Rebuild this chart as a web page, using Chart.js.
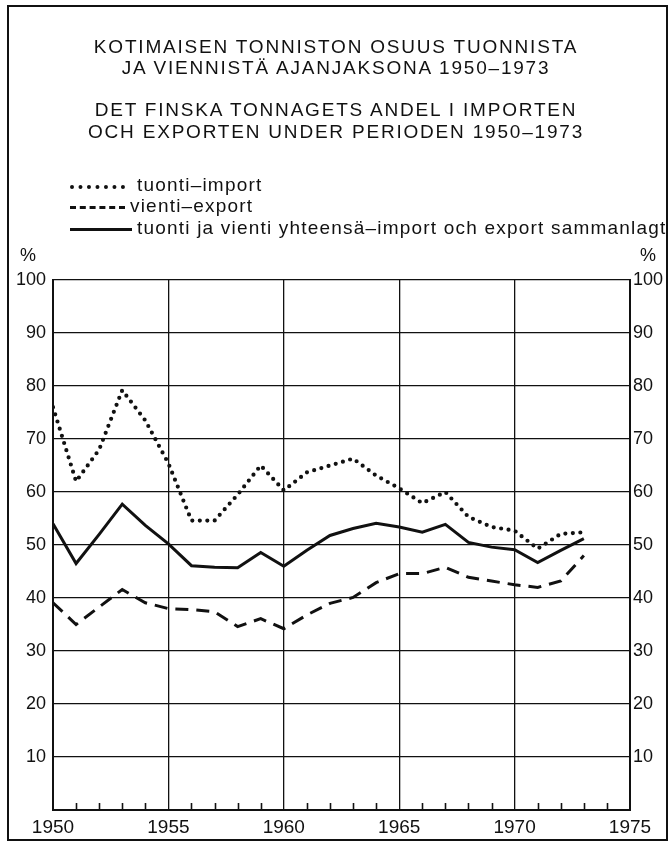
<!DOCTYPE html>
<html>
<head>
<meta charset="utf-8">
<script src="https://cdn.jsdelivr.net/npm/chart.js@4"></script>
<style>
  html, body { margin: 0; padding: 0; background: #fff; }
  body { width: 670px; height: 842px; position: relative; overflow: hidden;
         font-family: "Liberation Sans", Arial, sans-serif; color: #111; }
  #frame { position: absolute; left: 7px; top: 5px; width: 657px; height: 832px;
           border: 2px solid #111; pointer-events: none; }
  .title { position: absolute; left: 0; width: 672px; text-align: center;
           font-size: 19px; line-height: 22px; letter-spacing: 1.8px; white-space: nowrap; }
  .leg { position: absolute; left: 70px; font-size: 19px; line-height: 22px;
         letter-spacing: 1.2px; white-space: nowrap; }
  .leg .s { position: absolute; left: 0; top: 11px; width: 55px; height: 0; }
  .leg .t { position: absolute; top: 0; }
  .pct { position: absolute; top: 244px; font-size: 18px; line-height: 22px; }
  #wrap { position: absolute; left: 0; top: 0; width: 670px; height: 842px; }
</style>
</head>
<body>
<div id="wrap"><canvas id="chart" width="670" height="842"></canvas></div>

<div class="title" style="top:36px">KOTIMAISEN TONNISTON OSUUS TUONNISTA</div>
<div class="title" style="top:57px">JA VIENNISTÄ AJANJAKSONA 1950–1973</div>
<div class="title" style="top:99px">DET FINSKA TONNAGETS ANDEL I IMPORTEN</div>
<div class="title" style="top:121px">OCH EXPORTEN UNDER PERIODEN 1950–1973</div>

<div class="leg" style="top:174px"><span class="s" style="border-top:4px dotted #111"></span><span class="t" style="left:67px">tuonti–import</span></div>
<div class="leg" style="top:195px"><span class="s" style="border-top:3px dashed #111"></span><span class="t" style="left:60px">vienti–export</span></div>
<div class="leg" style="top:217px"><span class="s" style="border-top:3px solid #111;width:62px"></span><span class="t" style="left:67px">tuonti ja vienti yhteensä–import och export sammanlagt</span></div>

<div class="pct" style="left:20px">%</div>
<div class="pct" style="left:640px">%</div>

<div id="frame"></div>

<script>
const years = [1950, 1951, 1952, 1953, 1954, 1955, 1956, 1957, 1958, 1959, 1960, 1961,
               1962, 1963, 1964, 1965, 1966, 1967, 1968, 1969, 1970, 1971, 1972, 1973];
const importShare = [76, 62, 68, 79.2, 73.5, 65.4, 54.6, 54.6, 59.5, 65, 60.3, 63.7,
                     65, 66.3, 63.1, 60.7, 57.9, 60, 55.3, 53.4, 52.7, 49.3, 52.1, 52.4];
const exportShare = [39.1, 35, 38.3, 41.6, 39.1, 38, 37.8, 37.4, 34.6, 36.1, 34.2, 36.8,
                     39, 40.1, 42.9, 44.6, 44.6, 45.8, 43.9, 43.2, 42.5, 42, 43.2, 48];
const totalShare = [54, 46.5, 52, 57.7, 53.7, 50.2, 46.1, 45.8, 45.7, 48.6, 46, 49,
                    51.8, 53.1, 54.1, 53.4, 52.4, 53.9, 50.5, 49.6, 49.1, 46.7, 49, 51.2];
const xTickLabels = [1950, 1955, 1960, 1965, 1970, 1975];
const yTickLabels = [10, 20, 30, 40, 50, 60, 70, 80, 90, 100];

const ink = '#111';

function series(values) {
  return years.map((yr, i) => ({ x: yr, y: values[i] }));
}

// short year marks standing up from the bottom axis
const yearTicks = {
  id: 'yearTicks',
  afterDatasetsDraw(chart) {
    const { ctx, scales: { x }, chartArea } = chart;
    ctx.save();
    ctx.strokeStyle = ink;
    ctx.lineWidth = 1.6;
    for (let yr = 1951; yr < 1975; yr++) {
      if (xTickLabels.includes(yr)) continue;
      const px = Math.round(x.getPixelForValue(yr)) + 0.5;
      ctx.beginPath();
      ctx.moveTo(px, chartArea.bottom);
      ctx.lineTo(px, chartArea.bottom - 7);
      ctx.stroke();
    }
    ctx.restore();
  }
};

new Chart(document.getElementById('chart'), {
  type: 'line',
  data: {
    datasets: [
      { data: series(importShare), borderColor: ink, borderWidth: 4.2,
        borderDash: [0, 7.5], borderCapStyle: 'round', pointRadius: 0, tension: 0 },
      { data: series(exportShare), borderColor: ink, borderWidth: 3,
        borderDash: [13, 8], pointRadius: 0, tension: 0 },
      { data: series(totalShare), borderColor: ink, borderWidth: 3,
        pointRadius: 0, tension: 0 },
    ],
  },
  options: {
    responsive: false,
    animation: false,
    layout: { padding: { top: 280, left: 0, right: 0, bottom: 0 } },
    plugins: { legend: { display: false }, tooltip: { enabled: false } },
    scales: {
      x: {
        type: 'linear', min: 1950, max: 1975,
        afterFit: (s) => { s.height = 32; },
        afterBuildTicks: (s) => { s.ticks = xTickLabels.map((v) => ({ value: v })); },
        ticks: { color: ink, padding: 6, maxRotation: 0, autoSkip: false,
                 callback: (v) => String(v),
                 font: { family: 'Liberation Sans', size: 19 } },
        grid: { color: ink, lineWidth: 1.3, drawTicks: false },
        border: { color: ink, width: 2 },
      },
      y: {
        position: 'left', min: 0, max: 100,
        afterFit: (s) => { s.width = 53; },
        afterBuildTicks: (s) => { s.ticks = yTickLabels.map((v) => ({ value: v })); },
        ticks: { color: ink, padding: 7, font: { family: 'Liberation Sans', size: 18 } },
        grid: { color: ink, lineWidth: 1.3, drawTicks: false },
        border: { color: ink, width: 2 },
      },
      y2: {
        position: 'right', min: 0, max: 100,
        afterFit: (s) => { s.width = 40; },
        afterBuildTicks: (s) => { s.ticks = yTickLabels.map((v) => ({ value: v })); },
        ticks: { color: ink, padding: 3, font: { family: 'Liberation Sans', size: 18 } },
        grid: { display: false, drawTicks: false },
        border: { color: ink, width: 2 },
      },
    },
  },
  plugins: [yearTicks],
});
</script>
</body>
</html>
